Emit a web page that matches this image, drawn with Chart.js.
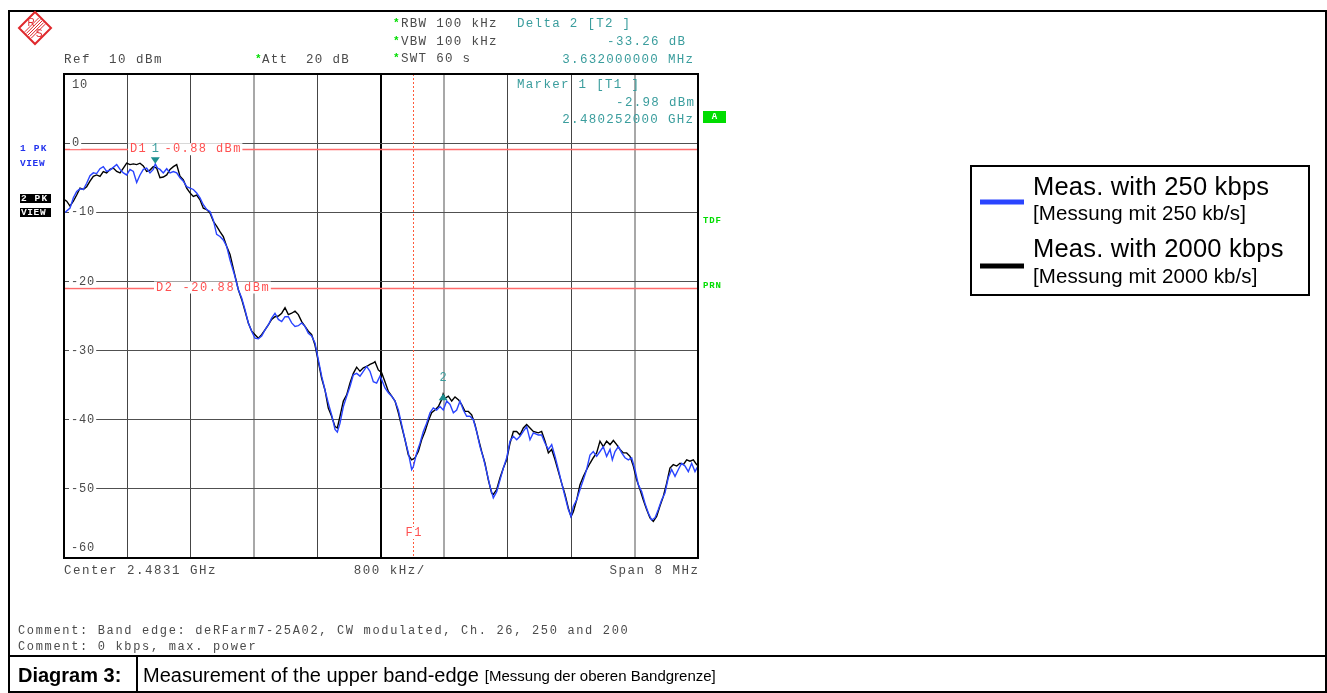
<!DOCTYPE html>
<html>
<head>
<meta charset="utf-8">
<script src="https://cdn.jsdelivr.net/npm/chart.js@4/dist/chart.umd.min.js"></script>
<style>
  html, body { margin: 0; padding: 0; background: #ffffff; }
  canvas { display: block; }
</style>
</head>
<body>
<canvas id="spectrum" width="1327" height="693"></canvas>
<script>
// ---- analyzer settings ----
const centerMHz = 2483.1;
const spanMHz = 8;
const divisions = 10;
const levelTicks = [10, 0, -10, -20, -30, -40, -50, -60];

// ---- trace 1: 250 kbps (blue) ----
const blueFreqMHz = [
  2479.108, 2479.125, 2479.176, 2479.218, 2479.260, 2479.302, 2479.344, 2479.386, 2479.428, 2479.470,
  2479.512, 2479.554, 2479.596, 2479.638, 2479.680, 2479.722, 2479.765, 2479.807, 2479.849, 2479.891,
  2479.933, 2479.975, 2480.017, 2480.059, 2480.101, 2480.143, 2480.185, 2480.227, 2480.252, 2480.280,
  2480.311, 2480.353, 2480.396, 2480.438, 2480.480, 2480.522, 2480.564, 2480.606, 2480.648, 2480.690,
  2480.732, 2480.774, 2480.816, 2480.858, 2480.900, 2480.942, 2480.984, 2481.026, 2481.068, 2481.110,
  2481.152, 2481.195, 2481.250, 2481.300, 2481.342, 2481.384, 2481.426, 2481.468, 2481.510, 2481.552,
  2481.594, 2481.636, 2481.678, 2481.720, 2481.762, 2481.805, 2481.847, 2481.889, 2481.931, 2481.973,
  2482.015, 2482.057, 2482.099, 2482.141, 2482.183, 2482.225, 2482.267, 2482.309, 2482.351, 2482.393,
  2482.435, 2482.477, 2482.520, 2482.549, 2482.583, 2482.625, 2482.667, 2482.709, 2482.751, 2482.793,
  2482.835, 2482.877, 2482.919, 2482.961, 2483.003, 2483.045, 2483.087, 2483.108, 2483.150, 2483.193,
  2483.235, 2483.277, 2483.319, 2483.361, 2483.403, 2483.445, 2483.487, 2483.508, 2483.550, 2483.592,
  2483.634, 2483.676, 2483.718, 2483.760, 2483.802, 2483.844, 2483.886, 2483.929, 2483.971, 2484.013,
  2484.055, 2484.097, 2484.139, 2484.181, 2484.223, 2484.265, 2484.307, 2484.349, 2484.391, 2484.433,
  2484.475, 2484.517, 2484.560, 2484.602, 2484.644, 2484.686, 2484.728, 2484.770, 2484.812, 2484.854,
  2484.896, 2484.938, 2484.980, 2485.022, 2485.085, 2485.127, 2485.170, 2485.212, 2485.254, 2485.296,
  2485.338, 2485.380, 2485.422, 2485.464, 2485.498, 2485.527, 2485.569, 2485.611, 2485.653, 2485.695,
  2485.737, 2485.779, 2485.821, 2485.863, 2485.905, 2485.947, 2485.990, 2486.019, 2486.053, 2486.095,
  2486.137, 2486.179, 2486.221, 2486.263, 2486.305, 2486.347, 2486.389, 2486.431, 2486.473, 2486.515,
  2486.557, 2486.599, 2486.641, 2486.683, 2486.725, 2486.767, 2486.810, 2486.852, 2486.894, 2486.936,
  2486.978, 2487.020, 2487.062, 2487.100
];
const blueLevelDbm = [
  -10.0, -9.9, -9.4, -7.9, -7.0, -6.6, -6.7, -5.8, -4.7, -4.3,
  -4.4, -3.7, -3.4, -4.1, -3.9, -3.5, -3.1, -3.8, -4.3, -4.6,
  -3.8, -4.1, -5.7, -4.6, -3.8, -3.6, -4.3, -3.8, -3.0, -3.6,
  -3.8, -4.3, -3.7, -4.3, -4.1, -4.3, -5.0, -5.5, -6.3, -6.5,
  -6.7, -7.2, -7.9, -8.9, -9.6, -9.9, -11.1, -13.2, -13.5, -14.0,
  -14.9, -16.9, -19.0, -21.2, -22.4, -24.1, -26.0, -27.2, -28.2, -28.3,
  -27.9, -27.0, -26.3, -25.3, -24.6, -25.5, -25.8, -25.1, -25.1, -26.0,
  -26.5, -26.4, -26.0, -26.5, -27.5, -27.9, -28.9, -31.3, -33.7, -35.7,
  -37.6, -39.3, -41.4, -41.8, -40.5, -38.1, -36.6, -35.2, -33.5, -33.3,
  -33.7, -33.0, -32.3, -33.0, -34.5, -34.7, -33.7, -34.2, -35.4, -36.1,
  -36.6, -37.3, -38.6, -40.7, -42.9, -44.8, -47.2, -46.8, -44.8, -43.4,
  -41.7, -40.5, -39.0, -38.3, -38.6, -38.1, -38.6, -37.3, -37.8, -39.0,
  -38.6, -37.3, -38.6, -39.5, -39.5, -40.0, -41.7, -43.9, -45.5, -47.5,
  -49.6, -51.3, -50.4, -48.7, -47.0, -45.5, -43.1, -42.4, -42.9, -42.4,
  -41.7, -41.0, -42.9, -41.9, -42.2, -42.2, -43.4, -44.3, -43.6, -45.3,
  -47.2, -49.2, -51.1, -53.0, -54.0, -52.5, -51.6, -50.1, -48.7, -47.2,
  -45.1, -44.6, -45.3, -44.6, -43.9, -45.3, -44.3, -45.8, -44.6, -43.9,
  -44.8, -45.5, -45.8, -45.5, -47.2, -49.4, -50.4, -52.1, -53.5, -54.5,
  -54.2, -53.0, -51.6, -50.6, -48.4, -47.2, -48.2, -47.2, -46.3, -46.7,
  -47.5, -46.3, -47.5, -46.7
];

// ---- trace 2: 2000 kbps (black) ----
const blackFreqMHz = [
  2479.108, 2479.134, 2479.176, 2479.218, 2479.260, 2479.302, 2479.344, 2479.386, 2479.428, 2479.470,
  2479.512, 2479.554, 2479.596, 2479.638, 2479.680, 2479.722, 2479.765, 2479.807, 2479.849, 2479.891,
  2479.933, 2479.975, 2480.017, 2480.059, 2480.101, 2480.143, 2480.185, 2480.227, 2480.269, 2480.311,
  2480.353, 2480.396, 2480.438, 2480.480, 2480.522, 2480.564, 2480.606, 2480.648, 2480.690, 2480.732,
  2480.774, 2480.816, 2480.858, 2480.900, 2480.942, 2480.984, 2481.026, 2481.068, 2481.110, 2481.152,
  2481.195, 2481.250, 2481.300, 2481.342, 2481.384, 2481.426, 2481.468, 2481.510, 2481.552, 2481.594,
  2481.636, 2481.678, 2481.720, 2481.762, 2481.805, 2481.847, 2481.889, 2481.931, 2481.973, 2482.015,
  2482.057, 2482.099, 2482.141, 2482.183, 2482.225, 2482.267, 2482.309, 2482.351, 2482.393, 2482.435,
  2482.477, 2482.520, 2482.549, 2482.583, 2482.625, 2482.667, 2482.709, 2482.751, 2482.793, 2482.835,
  2482.877, 2482.919, 2482.961, 2483.003, 2483.024, 2483.066, 2483.108, 2483.150, 2483.193, 2483.235,
  2483.277, 2483.319, 2483.361, 2483.403, 2483.445, 2483.487, 2483.529, 2483.571, 2483.613, 2483.655,
  2483.697, 2483.739, 2483.781, 2483.824, 2483.865, 2483.884, 2483.908, 2483.950, 2483.992, 2484.034,
  2484.076, 2484.118, 2484.160, 2484.202, 2484.244, 2484.286, 2484.328, 2484.370, 2484.412, 2484.454,
  2484.496, 2484.517, 2484.560, 2484.602, 2484.644, 2484.686, 2484.728, 2484.770, 2484.812, 2484.854,
  2484.896, 2484.938, 2484.980, 2485.022, 2485.085, 2485.127, 2485.170, 2485.212, 2485.254, 2485.296,
  2485.338, 2485.380, 2485.422, 2485.464, 2485.498, 2485.527, 2485.569, 2485.611, 2485.653, 2485.695,
  2485.737, 2485.779, 2485.821, 2485.863, 2485.905, 2485.947, 2485.990, 2486.032, 2486.074, 2486.116,
  2486.158, 2486.200, 2486.242, 2486.284, 2486.326, 2486.368, 2486.410, 2486.452, 2486.494, 2486.536,
  2486.578, 2486.620, 2486.662, 2486.704, 2486.746, 2486.788, 2486.831, 2486.873, 2486.915, 2486.957,
  2486.999, 2487.041, 2487.083, 2487.100
];
const blackLevelDbm = [
  -8.2, -8.4, -9.1, -8.4, -7.5, -6.5, -6.7, -6.3, -5.5, -4.8,
  -4.6, -4.8, -4.1, -4.3, -3.8, -3.6, -4.1, -4.3, -3.6, -2.9,
  -3.1, -3.0, -3.1, -2.9, -3.3, -4.1, -3.9, -3.4, -3.6, -5.0,
  -4.9, -4.6, -3.8, -3.4, -3.1, -4.8, -5.3, -6.5, -7.2, -7.7,
  -7.5, -8.2, -9.4, -9.6, -10.1, -11.3, -12.0, -12.8, -13.5, -14.9,
  -16.1, -18.8, -21.2, -22.6, -24.3, -26.0, -27.2, -27.7, -28.2, -27.7,
  -27.0, -26.3, -25.5, -25.1, -25.0, -24.6, -23.8, -24.8, -24.6, -24.3,
  -24.8, -25.8, -26.5, -27.2, -27.7, -29.2, -31.6, -34.0, -35.7, -38.3,
  -39.5, -41.0, -41.2, -39.5, -37.3, -36.4, -34.7, -33.3, -32.4, -33.0,
  -32.5, -32.3, -32.0, -31.8, -31.6, -32.8, -33.2, -34.5, -35.9, -36.6,
  -37.3, -39.0, -41.0, -42.9, -45.1, -45.8, -45.5, -44.6, -42.9, -41.7,
  -40.2, -39.0, -38.6, -38.1, -37.1, -36.3, -36.9, -36.6, -37.3, -36.7,
  -37.1, -37.8, -38.8, -38.8, -39.3, -40.7, -42.7, -44.6, -46.3, -48.7,
  -50.6, -50.8, -50.1, -48.4, -47.0, -45.8, -43.4, -41.7, -41.7, -42.2,
  -41.2, -40.7, -41.2, -41.7, -41.9, -41.7, -43.1, -44.8, -44.3, -45.8,
  -47.5, -49.2, -50.8, -52.8, -54.0, -53.3, -51.6, -49.4, -48.2, -47.2,
  -46.3, -45.5, -44.8, -43.1, -43.9, -43.1, -43.6, -43.0, -43.6, -44.3,
  -44.8, -44.8, -45.3, -46.7, -48.7, -50.1, -51.6, -53.0, -54.2, -54.7,
  -54.0, -52.5, -51.1, -49.2, -47.0, -46.5, -46.7, -46.3, -46.5, -45.8,
  -46.0, -45.8, -46.5, -46.4
];

// ---- markers, display lines, frequency line ----
const marker1FreqMHz = 2480.252;
const marker1LevelDbm = -2.98;
const delta2FreqMHz = 3.632;
const delta2LevelDb = -33.26;
const displayLineNames = ['D1', 'D2'];
const displayLineLevels = [-0.88, -20.88];
const f1FreqMHz = 2483.5;

// ---- legend and caption texts ----
const legendMain = ['Meas. with 250 kbps', 'Meas. with 2000 kbps'];
const legendSub = ['[Messung mit 250 kb/s]', '[Messung mit 2000 kb/s]'];
const captionLabel = 'Diagram 3:';
const captionText = 'Measurement of the upper band-edge';
const captionSub = '[Messung der oberen Bandgrenze]';
const commentLines = [
  'Comment: Band edge: deRFarm7-25A02, CW modulated, Ch. 26, 250 and 200',
  'Comment: 0 kbps, max. power'
];

const toPoints = (xs, ys) => xs.map((x, i) => ({ x, y: ys[i] }));
const startMHz = centerMHz - spanMHz / 2;
const stopMHz = centerMHz + spanMHz / 2;
const divMHz = spanMHz / divisions;

const monoFont = (size, weight) => `${weight || 'normal'} ${size}px "Liberation Mono", "DejaVu Sans Mono", monospace`;
const sansFont = (size, weight) => `${weight || 'normal'} ${size}px "Liberation Sans", Arial, sans-serif`;

const GREY_TEXT = '#4a4a4a';
const TEAL = '#3a9d9d';
const RED_LINE = '#ff6a6a';
const GREEN = '#00dd00';

function text(ctx, s, x, y, o) {
  o = o || {};
  ctx.save();
  ctx.font = o.font || monoFont(12);
  ctx.fillStyle = o.color || GREY_TEXT;
  ctx.textBaseline = o.baseline || 'middle';
  ctx.letterSpacing = (o.spacing || 0) + 'px';
  let w = ctx.measureText(s).width;
  if (o.spacing) w -= o.spacing;
  let left = x;
  if (o.align === 'right') left = x - w;
  else if (o.align === 'center') left = x - w / 2;
  if (o.backdrop) {
    ctx.fillStyle = o.backdrop;
    ctx.fillRect(left - 2, y - 6, w + 4, 12);
    ctx.fillStyle = o.color || GREY_TEXT;
  }
  ctx.textAlign = 'left';
  ctx.fillText(s, left, y);
  ctx.restore();
  return w;
}

const analyzerPlugin = {
  id: 'analyzerScreen',
  beforeDraw(chart) {
    const ctx = chart.ctx;
    ctx.save();
    ctx.fillStyle = '#ffffff';
    ctx.fillRect(0, 0, chart.width, chart.height);
    ctx.restore();
  },
  beforeDatasetsDraw(chart) {
    const ctx = chart.ctx;
    const a = chart.chartArea;
    const xs = chart.scales.x, ys = chart.scales.y;

    // display lines D1 / D2
    displayLineLevels.forEach(lvl => {
      const y = Math.round(ys.getPixelForValue(lvl)) + 0.5;
      ctx.save();
      ctx.strokeStyle = RED_LINE;
      ctx.lineWidth = 1.5;
      ctx.beginPath(); ctx.moveTo(a.left, y); ctx.lineTo(a.right, y); ctx.stroke();
      ctx.restore();
    });
    text(ctx, displayLineNames[0] + '  ' + displayLineLevels[0].toFixed(2) + ' dBm', 130, ys.getPixelForValue(displayLineLevels[0]),
      { font: monoFont(12), spacing: 1.4, color: '#ff5050', backdrop: '#ffffff' });
    text(ctx, displayLineNames[1] + ' ' + displayLineLevels[1].toFixed(2) + ' dBm', 156, ys.getPixelForValue(displayLineLevels[1]),
      { font: monoFont(12), spacing: 1.6, color: '#ff5050', backdrop: '#ffffff' });

    // frequency line F1
    const fx = Math.round(xs.getPixelForValue(f1FreqMHz)) + 0.5;
    ctx.save();
    ctx.strokeStyle = '#ff5a3a';
    ctx.lineWidth = 1;
    ctx.setLineDash([2, 2]);
    ctx.beginPath(); ctx.moveTo(fx, a.top); ctx.lineTo(fx, a.bottom); ctx.stroke();
    ctx.restore();
    text(ctx, 'F1', fx, 533, { font: monoFont(12), spacing: 1.5, color: '#ff5050', align: 'center', backdrop: '#ffffff' });

    // level labels inside the diagram
    levelTicks.forEach(v => {
      let y = ys.getPixelForValue(v);
      if (v === levelTicks[0]) y += 11;
      if (v === levelTicks[levelTicks.length - 1]) y -= 10;
      text(ctx, String(v), v < 0 ? 71 : 72, y, { font: monoFont(12), spacing: 0.8, color: GREY_TEXT, backdrop: '#ffffff' });
    });
  },
  afterDatasetsDraw(chart) {
    const ctx = chart.ctx;
    const a = chart.chartArea;
    const xs = chart.scales.x, ys = chart.scales.y;

    // marker 1 (down triangle, apex on trace)
    const m1x = xs.getPixelForValue(marker1FreqMHz);
    const m1y = ys.getPixelForValue(marker1LevelDbm);
    ctx.save();
    ctx.fillStyle = '#1e8f8f';
    ctx.beginPath(); ctx.moveTo(m1x - 4.5, m1y - 6.5); ctx.lineTo(m1x + 4.5, m1y - 6.5); ctx.lineTo(m1x, m1y); ctx.closePath(); ctx.fill();
    ctx.restore();
    text(ctx, '1', m1x, m1y - 15, { font: monoFont(12), color: TEAL, align: 'center' });

    // delta marker 2 (up triangle, apex on trace)
    const m2x = xs.getPixelForValue(marker1FreqMHz + delta2FreqMHz);
    const m2y = ys.getPixelForValue(marker1LevelDbm + delta2LevelDb);
    ctx.save();
    ctx.fillStyle = '#1e8f8f';
    ctx.beginPath(); ctx.moveTo(m2x - 4.5, m2y + 6.5); ctx.lineTo(m2x + 4.5, m2y + 6.5); ctx.lineTo(m2x, m2y); ctx.closePath(); ctx.fill();
    ctx.restore();
    text(ctx, '2', m2x, m2y - 16, { font: monoFont(12), color: TEAL, align: 'center' });

    // diagram frame
    ctx.save();
    ctx.strokeStyle = '#000000';
    ctx.lineWidth = 2;
    ctx.strokeRect(a.left, a.top, a.right - a.left, a.bottom - a.top);
    ctx.restore();
  },
  afterDraw(chart) {
    const ctx = chart.ctx;
    const W = chart.width, H = chart.height;

    // page frame and caption row
    ctx.save();
    ctx.strokeStyle = '#000000';
    ctx.lineWidth = 2;
    ctx.beginPath();
    ctx.moveTo(9, H); ctx.lineTo(9, 11); ctx.lineTo(W - 1, 11); ctx.lineTo(W - 1, H);
    ctx.moveTo(9, 656); ctx.lineTo(W - 1, 656);
    ctx.moveTo(137, 656); ctx.lineTo(137, H);
    ctx.moveTo(9, H - 1); ctx.lineTo(W - 1, H - 1);
    ctx.stroke();
    ctx.restore();

    // R&S logo
    ctx.save();
    ctx.translate(35, 28);
    ctx.strokeStyle = '#e0282c';
    ctx.fillStyle = '#e0282c';
    ctx.lineWidth = 2;
    ctx.beginPath(); ctx.moveTo(0, -16); ctx.lineTo(16, 0); ctx.lineTo(0, 16); ctx.lineTo(-16, 0); ctx.closePath(); ctx.stroke();
    ctx.lineWidth = 1;
    for (let k = -2; k <= 2; k++) {
      ctx.beginPath(); ctx.moveTo(-7 + k * 1.6, 7 + k * 1.6); ctx.lineTo(7 + k * 1.6, -7 + k * 1.6); ctx.stroke();
    }
    ctx.font = sansFont(10);
    ctx.textAlign = 'center'; ctx.textBaseline = 'middle';
    ctx.fillText('R', -4, -5);
    ctx.fillText('S', 4, 6);
    ctx.restore();

    // analyzer header
    const hf = monoFont(12.5);
    const sp = 1.3;
    text(ctx, '*', 393, 23, { font: monoFont(11, 'bold'), color: GREEN });
    text(ctx, 'RBW 100 kHz', 401, 24, { font: hf, spacing: sp });
    text(ctx, '*', 393, 41, { font: monoFont(11, 'bold'), color: GREEN });
    text(ctx, 'VBW 100 kHz', 401, 42, { font: hf, spacing: sp });
    text(ctx, '*', 393, 58, { font: monoFont(11, 'bold'), color: GREEN });
    text(ctx, 'SWT 60 s', 401, 59, { font: hf, spacing: sp });
    text(ctx, 'Ref  10 dBm', 64, 60, { font: hf, spacing: 1.5 });
    text(ctx, '*', 255, 59, { font: monoFont(11, 'bold'), color: GREEN });
    text(ctx, 'Att  20 dB', 262, 60, { font: hf, spacing: 1.3 });

    text(ctx, 'Delta 2 [T2 ]', 517, 24, { font: hf, spacing: sp, color: TEAL });
    text(ctx, delta2LevelDb.toFixed(2) + ' dB', 685, 42, { font: hf, spacing: sp, color: TEAL, align: 'right' });
    text(ctx, delta2FreqMHz.toFixed(9) + ' MHz', 693, 60, { font: hf, spacing: sp, color: TEAL, align: 'right' });
    text(ctx, 'Marker 1 [T1 ]', 517, 85, { font: hf, spacing: sp, color: TEAL });
    text(ctx, marker1LevelDbm.toFixed(2) + ' dBm', 694, 103, { font: hf, spacing: sp, color: TEAL, align: 'right' });
    text(ctx, (marker1FreqMHz / 1000).toFixed(9) + ' GHz', 693, 120, { font: hf, spacing: sp, color: TEAL, align: 'right' });

    // right side status boxes
    ctx.save();
    ctx.fillStyle = GREEN;
    ctx.fillRect(703, 111, 23, 12);
    ctx.restore();
    text(ctx, 'A', 714.5, 117, { font: monoFont(9, 'bold'), color: '#ffffff', align: 'center' });
    text(ctx, 'TDF', 703, 221, { font: monoFont(9, 'bold'), color: GREEN, spacing: 0.8 });
    text(ctx, 'PRN', 703, 286, { font: monoFont(9, 'bold'), color: GREEN, spacing: 0.8 });

    // trace labels on the left
    text(ctx, '1 PK', 20, 149, { font: monoFont(9.5, 'bold'), color: '#2233ee', spacing: 1.2 });
    text(ctx, 'VIEW', 20, 164, { font: monoFont(9.5, 'bold'), color: '#2233ee', spacing: 0.6 });
    ctx.save();
    ctx.fillStyle = '#000000';
    ctx.fillRect(20, 194, 31, 9);
    ctx.fillRect(20, 208, 31, 9);
    ctx.restore();
    text(ctx, '2 PK', 21, 199, { font: monoFont(9.5, 'bold'), color: '#ffffff', spacing: 1.1 });
    text(ctx, 'VIEW', 21, 213, { font: monoFont(9.5, 'bold'), color: '#ffffff', spacing: 0.6 });

    // frequency axis annotations
    text(ctx, 'Center ' + (centerMHz / 1000).toFixed(4) + ' GHz', 64, 571, { font: hf, spacing: 1.5 });
    text(ctx, Math.round(divMHz * 1000) + ' kHz/', 389, 571, { font: hf, spacing: 1.5, align: 'center' });
    text(ctx, 'Span ' + spanMHz + ' MHz', 698, 571, { font: hf, spacing: 1.5, align: 'right' });

    // comments
    text(ctx, commentLines[0], 18, 631, { font: monoFont(12), spacing: 1.66 });
    text(ctx, commentLines[1], 18, 647, { font: monoFont(12), spacing: 1.66 });

    // caption
    text(ctx, captionLabel, 18, 676, { font: sansFont(20, 'bold'), color: '#000000' });
    const w1 = text(ctx, captionText, 143, 676, { font: sansFont(20), color: '#000000' });
    text(ctx, captionSub, 143 + w1 + 6, 677, { font: sansFont(15), color: '#000000' });

    // legend box
    ctx.save();
    ctx.strokeStyle = '#000000';
    ctx.lineWidth = 2;
    ctx.strokeRect(971, 166, 338, 129);
    ctx.restore();
    const rows = [{ bar: 202, main: 188, sub: 214 }, { bar: 266, main: 250, sub: 277 }];
    rows.forEach((r, i) => {
      ctx.save();
      ctx.fillStyle = chart.data.datasets[i].borderColor;
      ctx.fillRect(980, r.bar - 2.5, 44, 5);
      ctx.restore();
      text(ctx, chart.data.datasets[i].label, 1033, r.main, { font: sansFont(25.5), color: '#000000', spacing: 0.2 });
      text(ctx, legendSub[i], 1033, r.sub, { font: sansFont(20.5), color: '#000000', spacing: 0.1 });
    });
  }
};

new Chart(document.getElementById('spectrum'), {
  type: 'line',
  data: {
    datasets: [
      {
        label: legendMain[0],
        data: toPoints(blueFreqMHz, blueLevelDbm),
        borderColor: '#2a44ff',
        borderWidth: 1.4,
        pointRadius: 0,
        tension: 0,
        order: 0
      },
      {
        label: legendMain[1],
        data: toPoints(blackFreqMHz, blackLevelDbm),
        borderColor: '#000000',
        borderWidth: 1.4,
        pointRadius: 0,
        tension: 0,
        order: 1
      }
    ]
  },
  options: {
    responsive: false,
    animation: false,
    devicePixelRatio: 1,
    layout: { padding: { left: 64, top: 74, right: 1327 - 698, bottom: 693 - 558 } },
    plugins: { legend: { display: false }, tooltip: { enabled: false } },
    scales: {
      x: {
        type: 'linear',
        min: startMHz,
        max: stopMHz,
        afterBuildTicks: s => {
          const t = [];
          for (let i = 0; i <= divisions; i++) t.push({ value: startMHz + i * divMHz });
          s.ticks = t;
        },
        ticks: { display: false },
        border: { display: false },
        grid: {
          drawTicks: false,
          color: c => (c.index === divisions / 2 ? '#000000' : (c.index % 3 === 0 ? '#a8a8a8' : '#454545')),
          lineWidth: c => (c.index === divisions / 2 ? 2 : (c.index % 3 === 0 ? 2 : 1))
        }
      },
      y: {
        type: 'linear',
        min: levelTicks[levelTicks.length - 1],
        max: levelTicks[0],
        afterBuildTicks: s => { s.ticks = levelTicks.map(v => ({ value: v })); },
        ticks: { display: false },
        border: { display: false },
        grid: { drawTicks: false, color: '#505050', lineWidth: 1 }
      }
    }
  },
  plugins: [analyzerPlugin]
});
</script>
</body>
</html>
